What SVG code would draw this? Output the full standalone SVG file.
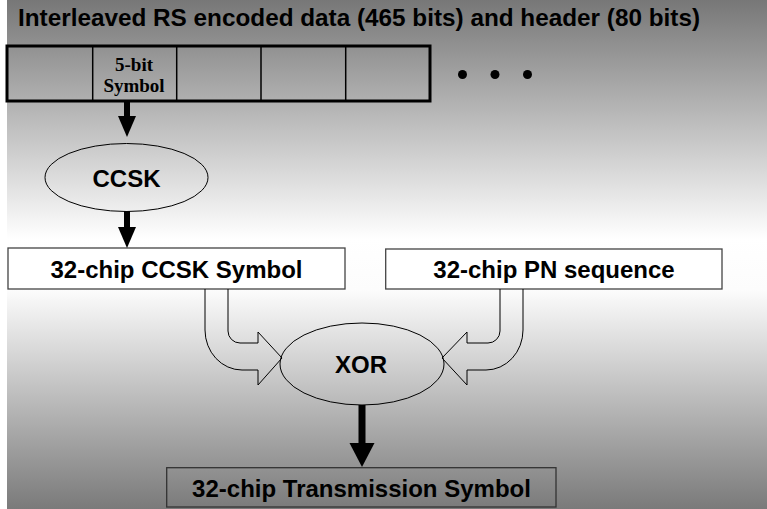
<svg xmlns="http://www.w3.org/2000/svg" width="767" height="509" viewBox="0 0 767 509">
<defs>
<linearGradient id="bg" x1="0" y1="0" x2="0" y2="1">
<stop offset="0" stop-color="#777777"/>
<stop offset="0.47" stop-color="#ffffff"/>
<stop offset="0.57" stop-color="#fcfcfc"/>
<stop offset="1" stop-color="#7a7a7a"/>
</linearGradient>
<style>
.t{font-family:"Liberation Sans",Arial,sans-serif;font-weight:bold;font-size:24px;fill:#000}
.s{font-family:"Liberation Serif","Times New Roman",serif;font-weight:bold;font-size:19px;fill:#000}
.box{fill:#fff;stroke:#444;stroke-width:1.3}
.ell{fill:none;stroke:#000;stroke-width:1}
.blk{fill:none;stroke:#000;stroke-width:1;stroke-linejoin:miter}
.arr{fill:#000}
</style>
</defs>
<rect x="0" y="0" width="767" height="509" fill="#fff"/>
<rect x="7" y="0" width="760" height="509" fill="url(#bg)"/>
<g id="title"><text class="t" x="18" y="26" textLength="682" lengthAdjust="spacingAndGlyphs">Interleaved RS encoded data (465 bits) and header (80 bits)</text></g>
<g id="symbols">
<rect x="7" y="46" width="423" height="55" fill="none" stroke="#000" stroke-width="3"/>
<g stroke="#000" stroke-width="1.5">
<line x1="92.7" y1="46" x2="92.7" y2="101"/>
<line x1="176.7" y1="46" x2="176.7" y2="101"/>
<line x1="261" y1="46" x2="261" y2="101"/>
<line x1="345.7" y1="46" x2="345.7" y2="101"/>
</g>
<text class="s" x="134" y="70.5" text-anchor="middle">5-bit</text>
<text class="s" x="134" y="91.5" text-anchor="middle">Symbol</text>
<circle cx="462.5" cy="74.5" r="4.5"/>
<circle cx="495" cy="74.5" r="4.5"/>
<circle cx="527.5" cy="74.5" r="4.5"/>
</g>
<g id="ccsk"><ellipse class="ell" cx="126.5" cy="177.5" rx="81.5" ry="34"/><text class="t" x="126.5" y="187" text-anchor="middle">CCSK</text></g>
<g id="ccsk-symbol"><rect class="box" x="8" y="248" width="337" height="41"/><text class="t" x="176.5" y="278" text-anchor="middle">32-chip CCSK Symbol</text></g>
<g id="pn-sequence"><rect class="box" x="385.7" y="249" width="336.3" height="40"/><text class="t" x="554" y="278" text-anchor="middle">32-chip PN sequence</text></g>
<g id="xor"><ellipse class="ell" cx="362" cy="364" rx="82" ry="41"/><text class="t" x="361" y="373" text-anchor="middle">XOR</text></g>
<g id="transmission"><rect x="166.7" y="467.7" width="389.3" height="39.3" fill="none" stroke="#333" stroke-width="1.3"/><text class="t" x="361.5" y="497" text-anchor="middle">32-chip Transmission Symbol</text></g>
<g id="connectors">
<rect class="arr" x="124" y="101" width="6" height="16"/>
<polygon class="arr" points="118,116 136,116 127,137"/>
<rect class="arr" x="124" y="211" width="6" height="17"/>
<polygon class="arr" points="118,227 136,227 127,248"/>
<path class="blk" d="M205 289 V330 A37 40 0 0 0 242 370 H258 V385 L282 358 L258 332 V343 H240 A12 12 0 0 1 228 331 V289"/>
<path class="blk" d="M523 289 V330 A37 40 0 0 1 486 370 H467 V385 L442 358 L467 332 V343 H488 A12 12 0 0 0 500 331 V289"/>
<rect class="arr" x="358.5" y="405" width="7" height="39"/>
<polygon class="arr" points="349.5,443 374.5,443 362,467"/>
</g>
</svg>
